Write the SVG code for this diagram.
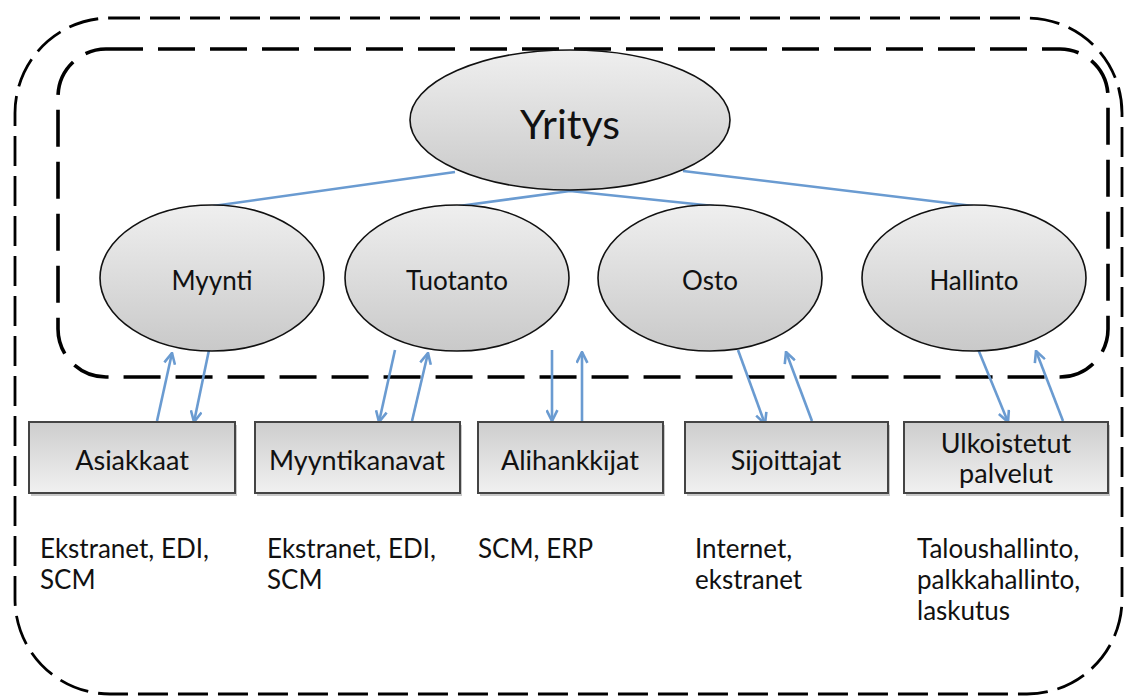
<svg xmlns="http://www.w3.org/2000/svg" width="1125" height="697" viewBox="0 0 1125 697">
<style>
  .lbl{font-family:Lato,"Liberation Sans",Arial,sans-serif;fill:#111;}
  .ell{stroke:#111;stroke-width:1.6;fill:url(#gEll);}
  .box{stroke:#444;stroke-width:2;fill:url(#gBox);}
  .shadow{fill:#c8c8c8;}
  .conn{stroke:#6a9bd1;stroke-width:2.6;fill:none;}
  .arr{stroke:#6a9bd1;stroke-width:2.6;fill:none;marker-end:url(#ah);}
</style>
<defs>
  <linearGradient id="gEll" x1="0" y1="0" x2="0" y2="1">
    <stop offset="0" stop-color="#efefef"/>
    <stop offset="1" stop-color="#c9c9c9"/>
  </linearGradient>
  <linearGradient id="gBox" x1="0" y1="0" x2="0" y2="1">
    <stop offset="0" stop-color="#cdcdcd"/>
    <stop offset="1" stop-color="#f1f1f1"/>
  </linearGradient>
  <marker id="ah" viewBox="0 0 12 12" refX="11" refY="6" markerWidth="13" markerHeight="13" markerUnits="userSpaceOnUse" orient="auto">
    <path d="M1,1 L11,6 L1,11" fill="none" stroke="#6a9bd1" stroke-width="2.4"/>
  </marker>
</defs>
<rect width="1125" height="697" fill="#fff"/>

<g id="outer-boundary">
  <rect x="15" y="18" width="1107" height="676" rx="95" ry="95" fill="none" stroke="#000" stroke-width="2.8" stroke-dasharray="30 10"/>
</g>
<g id="inner-boundary">
  <rect x="58" y="49" width="1050" height="328" rx="48" ry="48" fill="none" stroke="#000" stroke-width="3.6" stroke-dasharray="37 15"/>
</g>

<g id="connectors">
  <line class="conn" x1="213" y1="206" x2="455" y2="172"/>
  <line class="conn" x1="683" y1="171" x2="973" y2="206"/>
  <polyline class="conn" points="459,206 570,191 714,206"/>
  <line class="arr" x1="157" y1="421" x2="172" y2="353"/>
  <line class="arr" x1="209" y1="350" x2="194" y2="422"/>
  <line class="arr" x1="395" y1="350" x2="379" y2="422"/>
  <line class="arr" x1="412" y1="421" x2="428" y2="353"/>
  <line class="arr" x1="552" y1="350" x2="552" y2="421"/>
  <line class="arr" x1="582" y1="421" x2="582" y2="352"/>
  <line class="arr" x1="738" y1="350" x2="765" y2="424"/>
  <line class="arr" x1="812" y1="421" x2="786" y2="352"/>
  <line class="arr" x1="978" y1="349" x2="1008" y2="422"/>
  <line class="arr" x1="1063" y1="421" x2="1036" y2="351"/>
</g>

<g id="yritys">
  <ellipse class="ell" cx="570" cy="120" rx="160" ry="70"/>
  <text class="lbl" x="570" y="139" text-anchor="middle" font-size="41">Yritys</text>
</g>
<g id="myynti">
  <ellipse class="ell" cx="212" cy="278" rx="112" ry="73"/>
  <text class="lbl" x="212" y="290" text-anchor="middle" font-size="26">Myynti</text>
</g>
<g id="tuotanto">
  <ellipse class="ell" cx="457" cy="278" rx="112" ry="73"/>
  <text class="lbl" x="457" y="290" text-anchor="middle" font-size="26">Tuotanto</text>
</g>
<g id="osto">
  <ellipse class="ell" cx="710" cy="278" rx="112" ry="73"/>
  <text class="lbl" x="710" y="290" text-anchor="middle" font-size="26">Osto</text>
</g>
<g id="hallinto">
  <ellipse class="ell" cx="974" cy="278" rx="112" ry="73"/>
  <text class="lbl" x="974" y="290" text-anchor="middle" font-size="26">Hallinto</text>
</g>

<g id="asiakkaat">
  <rect class="shadow" x="31" y="425" width="206" height="71"/>
  <rect class="box" x="29" y="422" width="206" height="71"/>
  <text class="lbl" x="132" y="470" text-anchor="middle" font-size="27">Asiakkaat</text>
</g>
<g id="myyntikanavat">
  <rect class="shadow" x="257" y="425" width="205" height="71"/>
  <rect class="box" x="255" y="422" width="205" height="71"/>
  <text class="lbl" x="357" y="470" text-anchor="middle" font-size="27">Myyntikanavat</text>
</g>
<g id="alihankkijat">
  <rect class="shadow" x="480" y="425" width="185" height="71"/>
  <rect class="box" x="478" y="422" width="185" height="71"/>
  <text class="lbl" x="570" y="470" text-anchor="middle" font-size="27">Alihankkijat</text>
</g>
<g id="sijoittajat">
  <rect class="shadow" x="687" y="425" width="203" height="71"/>
  <rect class="box" x="685" y="422" width="203" height="71"/>
  <text class="lbl" x="786" y="470" text-anchor="middle" font-size="27">Sijoittajat</text>
</g>
<g id="ulkoistetut-palvelut">
  <rect class="shadow" x="906" y="425" width="204" height="71"/>
  <rect class="box" x="904" y="422" width="204" height="71"/>
  <text class="lbl" x="1006" y="453" text-anchor="middle" font-size="27">Ulkoistetut</text>
  <text class="lbl" x="1006" y="483" text-anchor="middle" font-size="27">palvelut</text>
</g>

<g id="notes">
  <text class="lbl" x="40" y="558" font-size="26">Ekstranet, EDI,</text>
  <text class="lbl" x="40" y="589" font-size="26">SCM</text>
  <text class="lbl" x="267" y="558" font-size="26">Ekstranet, EDI,</text>
  <text class="lbl" x="267" y="589" font-size="26">SCM</text>
  <text class="lbl" x="478" y="558" font-size="26">SCM, ERP</text>
  <text class="lbl" x="695" y="558" font-size="26">Internet,</text>
  <text class="lbl" x="695" y="589" font-size="26">ekstranet</text>
  <text class="lbl" x="917" y="558" font-size="26">Taloushallinto,</text>
  <text class="lbl" x="917" y="589" font-size="26">palkkahallinto,</text>
  <text class="lbl" x="917" y="620" font-size="26">laskutus</text>
</g>
</svg>
